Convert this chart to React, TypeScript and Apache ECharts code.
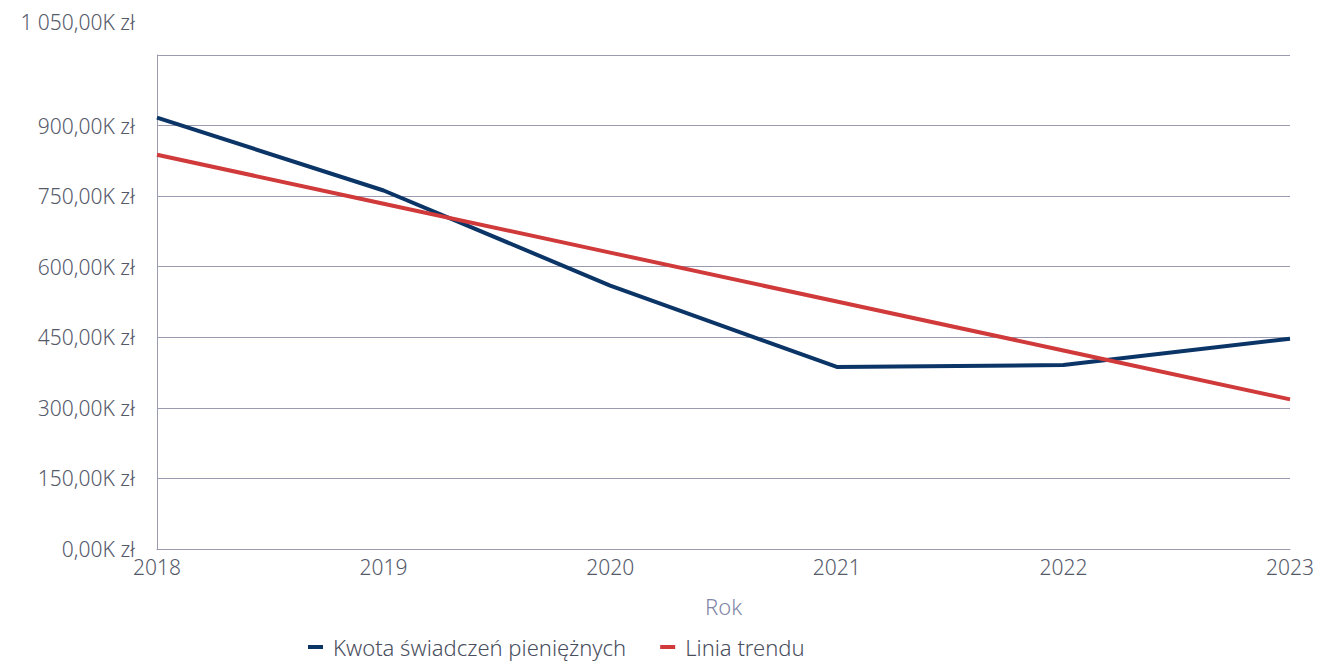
import React, { useEffect, useRef } from "react";
import * as echarts from "echarts";

const years = ["2018", "2019", "2020", "2021", "2022", "2023"];
const amounts = [917, 762, 560, 387, 391, 447];
const trend = [838, 734, 630, 526, 422, 318];
const seriesNames = ["Kwota świadczeń pieniężnych", "Linia trendu"];
const xAxisTitle = "Rok";

const fmt = (v: number) => {
  const fixed = v.toFixed(2);
  const [intPart, dec] = fixed.split(".");
  const withSpace = intPart.replace(/\B(?=(\d{3})+(?!\d))/g, " ");
  return `${withSpace},${dec}K zł`;
};

export default function App() {
  const ref = useRef<HTMLDivElement>(null);
  useEffect(() => {
    if (!ref.current) return;
    const chart = echarts.init(ref.current, null, { renderer: "svg" });
    const font = "'Noto Sans', sans-serif";
    const labelColor = "#555a6b";
    chart.setOption({
      animation: false,
      grid: { left: 157, right: 23, top: 55, bottom: 114, containLabel: false },
      legend: {
        bottom: 0,
        left: 303,
        itemWidth: 15,
        itemHeight: 4,
        itemGap: 34,
        icon: "rect",
        textStyle: { color: "#4a4f60", fontSize: 22, fontFamily: font, fontWeight: 300, padding: [0, 0, 0, 5] },
        data: seriesNames,
      },
      xAxis: {
        type: "category",
        data: years,
        boundaryGap: false,
        name: xAxisTitle,
        nameLocation: "middle",
        nameGap: 46,
        nameTextStyle: { color: "#7f86a8", fontSize: 22, fontFamily: font, fontWeight: 300 },
        axisLine: { show: true, lineStyle: { color: "#9a9ab0", width: 1 } },
        axisTick: { show: false },
        axisLabel: { color: labelColor, fontSize: 21, fontFamily: font, fontWeight: 300, margin: 7 },
        splitLine: { show: false },
      },
      yAxis: {
        type: "value",
        min: 0,
        max: 1050,
        interval: 150,
        axisLine: { show: true, lineStyle: { color: "#9a9ab0", width: 1 } },
        axisTick: { show: false },
        splitLine: { show: true, lineStyle: { color: "#9a9ab0", width: 1 } },
        axisLabel: {
          color: labelColor,
          fontSize: 21,
          fontFamily: font,
          fontWeight: 300,
          margin: 22,
          formatter: (v: number) => (v === 1050 ? `{top|${fmt(v)}}` : fmt(v)),
          rich: {
            top: { color: labelColor, fontSize: 21, fontFamily: font, fontWeight: 300, padding: [0, 0, 66, 0] },
          },
        },
      },
      series: [
        {
          name: seriesNames[0],
          type: "line",
          data: amounts,
          symbol: "none",
          lineStyle: { color: "#0b3566", width: 4 },
          itemStyle: { color: "#0b3566" },
        },
        {
          name: seriesNames[1],
          type: "line",
          data: trend,
          symbol: "none",
          lineStyle: { color: "#d03a3a", width: 4 },
          itemStyle: { color: "#d03a3a" },
        },
      ],
    });
    return () => chart.dispose();
  }, []);
  return <div ref={ref} style={{ width: 1317, height: 663, position: "absolute", left: 0, top: 0 }} />;
}
